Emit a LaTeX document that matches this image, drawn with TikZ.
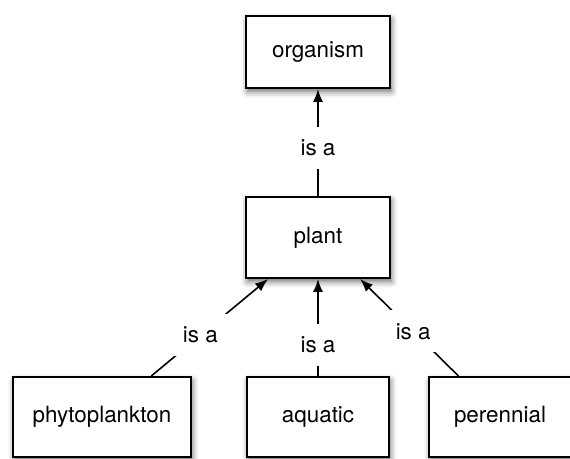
\documentclass[tikz,border=0pt]{standalone}
\usepackage{fontspec}
\setmainfont{TeX Gyre Heros}
\usepackage{tikz}
\usetikzlibrary{arrows.meta, positioning, shadows.blur}
\tikzset{
    concept/.style={rectangle, draw, line width=1pt, fill=white, minimum height=40pt,
        font=\fontsize{11.2}{13}\selectfont,
        blur shadow={shadow xshift=0.7pt, shadow yshift=-1.8pt, shadow blur radius=3pt, shadow opacity=60}},
    arrow/.style={-{Latex[length=6.5pt, width=5pt]}, line width=0.8pt},
    isa/.style={fill=white, inner sep=6.5pt, font=\fontsize{11.2}{13}\selectfont}
}

\begin{document}
\begin{tikzpicture}[x=1pt, y=1pt]
    \useasboundingbox (0,0) rectangle (285,229.5);

    \node[concept, minimum width=72pt, minimum height=36pt] (organism) at (159,203.5) {organism};
    \node[concept, minimum width=72pt, minimum height=40.5pt] (plant) at (159,110.75) {plant};
    \node[concept, minimum width=89pt] (phytoplankton) at (51,21) {phytoplankton};
    \node[concept, minimum width=71pt] (aquatic) at (159,21) {aquatic};
    \node[concept, minimum width=71pt] (perennial) at (250,21) {perennial};

    \draw[arrow] (plant) -- node[isa, pos=0.45] {is a} (organism);
    \draw[arrow] (phytoplankton) -- node[isa, pos=0.42] {is a} (plant);
    \draw[arrow] (aquatic) -- node[isa, pos=0.32] {is a} (plant);
    \draw[arrow] (perennial) -- node[isa, pos=0.46] {is a} (plant);
\end{tikzpicture}
\end{document}
